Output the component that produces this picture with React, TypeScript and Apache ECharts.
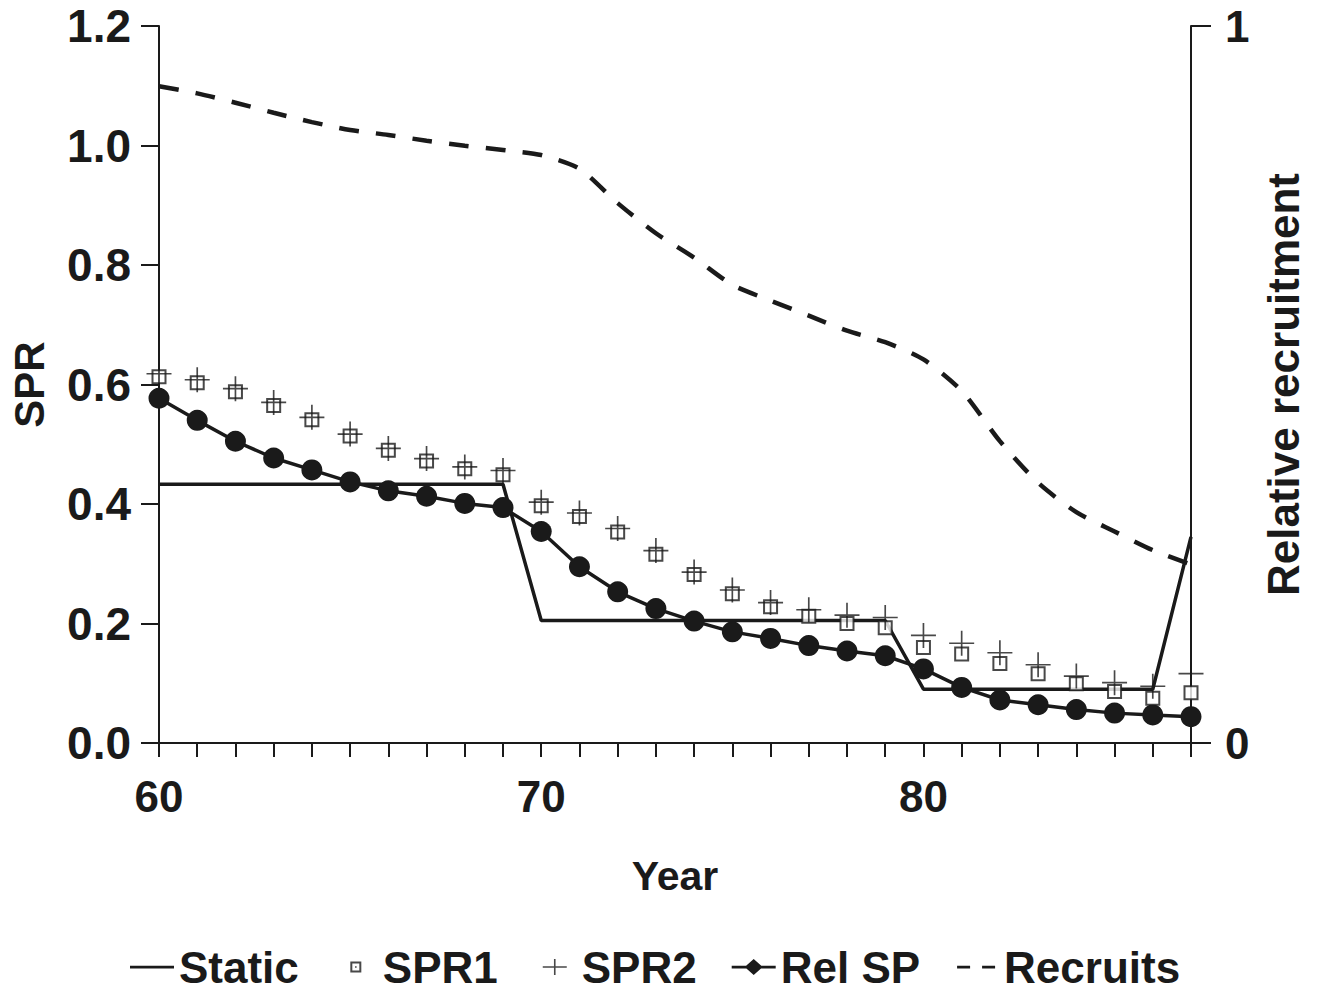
import React, { useEffect, useRef } from "react";
import * as echarts from "echarts";

const years = [60, 61, 62, 63, 64, 65, 66, 67, 68, 69, 70, 71, 72, 73, 74, 75, 76, 77, 78, 79, 80, 81, 82, 83, 84, 85, 86, 87];

const staticSPR = [0.433, 0.433, 0.433, 0.433, 0.433, 0.433, 0.433, 0.433, 0.433, 0.433,
  0.205, 0.205, 0.205, 0.205, 0.205, 0.205, 0.205, 0.205, 0.205, 0.205,
  0.09, 0.09, 0.09, 0.09, 0.09, 0.09, 0.09, 0.345];

const spr1 = [0.613, 0.603, 0.588, 0.565, 0.541, 0.514, 0.49, 0.472, 0.459, 0.449,
  0.397, 0.379, 0.353, 0.316, 0.282, 0.25, 0.228, 0.212, 0.2, 0.193,
  0.16, 0.149, 0.133, 0.116, 0.099, 0.086, 0.075, 0.084];

const spr2 = [0.618, 0.608, 0.593, 0.57, 0.545, 0.517, 0.493, 0.476, 0.462, 0.456,
  0.403, 0.385, 0.359, 0.322, 0.286, 0.256, 0.235, 0.223, 0.214, 0.21,
  0.18, 0.167, 0.151, 0.131, 0.112, 0.101, 0.095, 0.116];

const relSP = [0.577, 0.54, 0.505, 0.477, 0.457, 0.437, 0.422, 0.413, 0.401, 0.394,
  0.354, 0.295, 0.253, 0.225, 0.204, 0.186, 0.175, 0.163, 0.154, 0.146,
  0.124, 0.093, 0.072, 0.064, 0.056, 0.05, 0.047, 0.044];

const recruits = [0.916, 0.906, 0.893, 0.879, 0.866, 0.855, 0.848, 0.84, 0.833, 0.827,
  0.82, 0.801, 0.753, 0.711, 0.677, 0.639, 0.617, 0.596, 0.575, 0.559,
  0.535, 0.491, 0.421, 0.363, 0.322, 0.295, 0.269, 0.249];

const xLabels = [60, 70, 80];

const INK = "#1a1a1a";
const FONT = "Liberation Sans, Arial, sans-serif";

const pairs = (vals: number[]) => years.map((y, i) => [y, vals[i]]);

// invisible corner points so every legend icon shares a 44x16 box
const BOX = "M0,0L0.01,0L0,0.01Z M44,16L43.99,16L44,15.99Z ";
const ICONS: Record<string, string> = {
  Static: "path://" + BOX + "M0,6.8H44V9.4H0Z",
  SPR1: "path://" + BOX + "M16.5,2.5H27.5V13.5H16.5Z M18.5,4.5V11.5H25.5V4.5Z M21.2,7.2H22.8V8.8H21.2Z",
  SPR2: "path://" + BOX + "M10,7.2H34V8.8H10Z M21.2,0H22.8V16H21.2Z",
  "Rel SP": "path://" + BOX + "M0,6.8H44V9.4H0Z M22,0L31,8L22,16L13,8Z",
  Recruits: "path://" + BOX + "M2,6.8H15V9.4H2Z M27,6.8H40V9.4H27Z",
};
const legendNames = ["Static", "SPR1", "SPR2", "Rel SP", "Recruits"];

export default function App() {
  const ref = useRef<HTMLDivElement>(null);
  useEffect(() => {
    if (!ref.current) return;
    const chart = echarts.init(ref.current, undefined, { renderer: "svg" });
    const textBase = { fontFamily: FONT, fontWeight: "bold" as const, color: INK };
    chart.setOption({
      animation: false,
      backgroundColor: "#ffffff",
      grid: { left: 159, right: 133, top: 26, bottom: 253 },
      xAxis: {
        type: "value",
        min: 60,
        max: 87,
        interval: 1,
        name: "Year",
        nameLocation: "middle",
        nameGap: 112,
        nameTextStyle: { ...textBase, fontSize: 41 },
        axisLine: { lineStyle: { color: INK, width: 2 } },
        axisTick: { length: 14, lineStyle: { color: INK, width: 2 } },
        axisLabel: {
          ...textBase,
          fontSize: 44,
          margin: 31,
          formatter: (v: number) => (xLabels.includes(v) ? String(v) : ""),
        },
        splitLine: { show: false },
      },
      yAxis: [
        {
          type: "value",
          min: 0,
          max: 1.2,
          interval: 0.2,
          name: "SPR",
          nameLocation: "middle",
          nameRotate: 90,
          nameGap: 109,
          nameTextStyle: { ...textBase, fontSize: 42 },
          axisLine: { show: true, lineStyle: { color: INK, width: 2 } },
          axisTick: { show: true, length: 18, lineStyle: { color: INK, width: 2 } },
          axisLabel: { ...textBase, fontSize: 46, margin: 28, formatter: (v: number) => v.toFixed(1) },
          splitLine: { show: false },
        },
        {
          type: "value",
          position: "right",
          min: 0,
          max: 1,
          interval: 1,
          name: "Relative recruitment",
          nameLocation: "middle",
          nameRotate: 90,
          nameGap: 70,
          nameTextStyle: { ...textBase, fontSize: 44 },
          axisLine: { show: true, lineStyle: { color: INK, width: 2 } },
          axisTick: { show: true, length: 20, lineStyle: { color: INK, width: 2 } },
          axisLabel: { ...textBase, fontSize: 44, margin: 34 },
          splitLine: { show: false },
        },
      ],
      legend: {
        left: 125,
        top: 940,
        itemGap: 35,
        itemWidth: 44,
        itemHeight: 16,
        textStyle: { ...textBase, fontSize: 44 },
        data: legendNames.map((n) => ({
          name: n,
          icon: ICONS[n],
          itemStyle: { color: INK, borderWidth: 0 },
        })),
      },
      series: [
        {
          name: "Static",
          type: "line",
          data: pairs(staticSPR),
          symbol: "none",
          lineStyle: { color: INK, width: 3.5 },
          itemStyle: { color: INK },
          z: 2,
        },
        {
          name: "SPR1",
          type: "scatter",
          data: pairs(spr1),
          symbol: "rect",
          symbolSize: 13,
          itemStyle: { color: "#ffffff", borderColor: INK, borderWidth: 2 },
          z: 4,
        },
        {
          name: "SPR2",
          type: "scatter",
          data: pairs(spr2),
          symbol: "path://M0,11.2H24V12.8H0Z M11.2,0H12.8V24H11.2Z",
          symbolSize: 25,
          itemStyle: { color: INK },
          z: 5,
        },
        {
          name: "Rel SP",
          type: "line",
          data: pairs(relSP),
          symbol: "circle",
          symbolSize: 21,
          showAllSymbol: true,
          lineStyle: { color: INK, width: 3.5 },
          itemStyle: { color: INK },
          z: 3,
        },
        {
          name: "Recruits",
          type: "line",
          yAxisIndex: 1,
          data: pairs(recruits),
          symbol: "none",
          smooth: 0.25,
          lineStyle: { color: INK, width: 4.5, type: [20, 17] },
          itemStyle: { color: INK },
          z: 2,
        },
      ],
    });
    return () => chart.dispose();
  }, []);
  return (
    <div
      ref={ref}
      style={{ position: "fixed", left: 0, top: 0, width: 1324, height: 996, background: "#fff" }}
    />
  );
}
